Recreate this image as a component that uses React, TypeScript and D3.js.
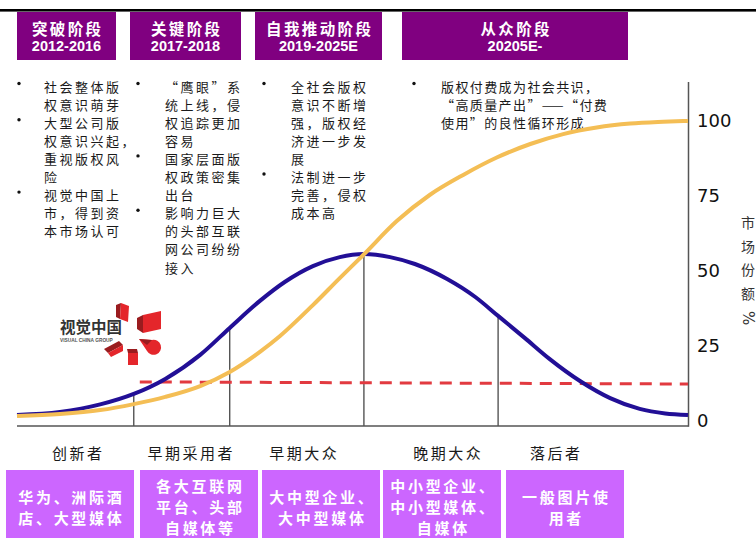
import React from "react";
import * as d3 from "d3";

// Stage headers
const stageNames = ["突破阶段", "关键阶段", "自我推动阶段", "从众阶段"];
const stagePeriods = ["2012-2016", "2017-2018", "2019-2025E", "20205E-"];

// Notes under each stage: bullets, each bullet split into display lines
const stageNotes: string[][][] = [
  [
    ["社会整体版", "权意识萌芽"],
    ["大型公司版", "权意识兴起，", "重视版权风", "险"],
    ["视觉中国上", "市，得到资", "本市场认可"],
  ],
  [
    ["“鹰眼”系", "统上线，侵", "权追踪更加", "容易"],
    ["国家层面版", "权政策密集", "出台"],
    ["影响力巨大", "的头部互联", "网公司纷纷", "接入"],
  ],
  [
    ["全社会版权", "意识不断增", "强，版权经", "济进一步发", "展"],
    ["法制进一步", "完善，侵权", "成本高"],
  ],
  [["版权付费成为社会共识，", "“高质量产出”——“付费", "使用”的良性循环形成"]],
];

// Adopter categories and the users in each
const adopterGroups = ["创新者", "早期采用者", "早期大众", "晚期大众", "落后者"];
const adopterUsers: string[][] = [
  ["华为、洲际酒", "店、大型媒体"],
  ["各大互联网", "平台、头部", "自媒体等"],
  ["大中型企业、", "大中型媒体"],
  ["中小型企业、", "中小型媒体、", "自媒体"],
  ["一般图片使", "用者"],
];

// Adoption curve (bell): [time, share %]
const adoptionBell: [number, number][] = [
  [0, 1.7], [6.4, 2.7], [12.4, 5.2], [17.4, 8.7], [22.1, 13.7], [27.3, 21.7],
  [31.7, 30.7], [36.2, 39.7], [39.9, 46.0], [44.1, 51.3], [48.1, 54.3],
  [51.7, 55.3], [55.6, 54.3], [59.3, 52.0], [64.1, 47.0], [68.3, 41.0],
  [71.7, 34.7], [75.7, 27.3], [79.4, 20.3], [83.9, 13.0], [88.4, 7.3],
  [92.8, 3.7], [96.6, 2.2], [100, 1.7],
];

// Cumulative market share (S-curve): [time, share %]
const marketShare: [number, number][] = [
  [0, 1.3], [6.4, 2.0], [12.4, 3.3], [17.4, 5.3], [22.1, 7.7], [27.3, 11.3],
  [31.7, 16.0], [36.2, 22.7], [39.2, 28.0], [44.1, 38.3], [48.1, 47.3],
  [51.6, 55.0], [56.6, 66.3], [61.5, 75.0], [66.5, 81.7], [71.5, 87.5],
  [76.5, 92.0], [81.4, 95.3], [86.4, 97.5], [91.4, 98.8], [96.3, 99.4],
  [100, 99.7],
];

// Critical-mass threshold line
const threshold: [number, number][] = [[18.3, 12.7], [100, 12.0]];

// Group boundaries on the bell curve: [time, share %]
const boundaries: [number, number][] = [[17.4, 8.7], [31.7, 30.7], [51.7, 55.3], [71.7, 34.7]];

const yTicks = [0, 25, 50, 75, 100];
const axisTitle = ["市", "场", "份", "额"];

// Layout
const W = 756;
const H = 538;
const headerBoxes = [[17, 116], [130, 241], [255, 382], [402, 628]];
const noteColumns = [
  { bx: 18, tx: 44, ls: 2.5 },
  { bx: 137, tx: 165, ls: 2.5 },
  { bx: 263, tx: 291, ls: 2.5 },
  { bx: 413, tx: 441, ls: 1.4 },
];
const groupLabelX = [77, 190, 303, 447, 555];
const userBoxes = [[6, 134], [140, 258], [262, 380], [383, 501], [506, 624]];

const PURPLE = "#800080";
const LILAC = "#CC66FF";
const NAVY = "#220F96";
const GOLD = "#F4BE55";
const RED = "#E23A40";
const CJK = "'Noto Sans CJK SC', sans-serif";

export default function App() {
  const x = d3.scaleLinear().domain([0, 100]).range([17, 688]);
  const y = d3.scaleLinear().domain([0, 100]).range([420, 120]);
  const line = d3
    .line<[number, number]>()
    .x((d) => x(d[0]))
    .y((d) => y(d[1]))
    .curve(d3.curveMonotoneX);
  const straight = d3
    .line<[number, number]>()
    .x((d) => x(d[0]))
    .y((d) => y(d[1]));

  const baseY = y(0) + 6;
  const axisX = x(100) + 0.5;
  const lineH = 18.1;

  return (
    <svg
      width={W}
      height={H}
      viewBox={`0 0 ${W} ${H}`}
      style={{ position: "absolute", left: 0, top: 0, background: "#fff" }}
    >
      <rect x={0} y={0} width={W} height={H} fill="#fff" />
      {/* top rule */}
      <rect x={0} y={9} width={W} height={2.6} fill="#000" />

      {/* stage headers */}
      {stageNames.map((name, i) => {
        const [x0, x1] = headerBoxes[i];
        const cx = (x0 + x1) / 2;
        return (
          <g key={name}>
            <rect x={x0} y={12} width={x1 - x0} height={48} fill={PURPLE} />
            <text
              x={cx + 1.2}
              y={27.5}
              textAnchor="middle"
              dominantBaseline="central"
              fill="#fff"
              fontFamily={CJK}
              fontWeight="bold"
              fontSize={15.5}
              letterSpacing={2.4}
            >
              {name}
            </text>
            <text
              x={cx}
              y={46}
              textAnchor="middle"
              dominantBaseline="central"
              fill="#fff"
              fontFamily="'Liberation Sans', Arial, sans-serif"
              fontWeight="bold"
              fontSize={14.5}
            >
              {stagePeriods[i]}
            </text>
          </g>
        );
      })}

      {/* stage notes */}
      {stageNotes.map((bullets, ci) => {
        const col = noteColumns[ci];
        let row = 0;
        const items: React.ReactNode[] = [];
        bullets.forEach((lines, bi) => {
          const yy = 86 + row * lineH;
          items.push(
            <circle key={`b${bi}`} cx={col.bx + 1} cy={yy - 2.5} r={1.7} fill="#111" />
          );
          lines.forEach((ln, li) => {
            items.push(
              <text
                key={`t${bi}-${li}`}
                x={col.tx}
                y={86 + (row + li) * lineH}
                dominantBaseline="central"
                fill="#1a1a1a"
                fontFamily={CJK}
                fontSize={13}
                letterSpacing={col.ls}
              >
                {ln}
              </text>
            );
          });
          row += lines.length;
        });
        return <g key={ci}>{items}</g>;
      })}

      {/* logo */}
      <g>
        <text x={60} y={333} fontFamily={CJK} fontWeight="bold" fontSize={15.5} fill="#333">
          视觉中国
        </text>
        <text x={60} y={341.5} fontFamily="'Liberation Sans', Arial, sans-serif" fontWeight="bold" fontSize={4.8} fill="#555">
          VISUAL CHINA GROUP
        </text>
        <polygon points="116,305 121,303 120,319 116,317" fill="#9a1c1f" />
        <polygon points="121,303 129,306 128,322 120,319" fill="#e4262b" />
        <polygon points="137,318 143,315 143,333 137,329" fill="#9a1c1f" />
        <polygon points="143,315 161,311 161,329 143,333" fill="#e4262b" />
        <path d="M139,339 L152,340 A7.5,7.5 0 1 1 147,351 Z" fill="#e4262b" />
        <path d="M139,339 L152,340 L147,345 Z" fill="#9a1c1f" />
        <polygon points="127,349 137,349 138,353 128,353" fill="#9a1c1f" />
        <rect x={128} y={353} width={10} height={12} fill="#e4262b" />
        <polygon points="104,349 119,341 123,345 108,353" fill="#9a1c1f" />
        <polygon points="108,353 123,345 123,351 111,357" fill="#e4262b" />
      </g>

      {/* group boundaries */}
      {boundaries.map((b, i) => (
        <line
          key={i}
          x1={x(b[0])}
          x2={x(b[0])}
          y1={y(b[1])}
          y2={baseY}
          stroke="#555"
          strokeWidth={1.4}
        />
      ))}

      {/* baseline and right axis */}
      <line x1={x(0)} x2={axisX} y1={baseY} y2={baseY} stroke="#555" strokeWidth={1.5} />
      <line x1={axisX} x2={axisX} y1={82} y2={baseY + 0.75} stroke="#555" strokeWidth={1.5} />
      {yTicks.map((t) => (
        <text
          key={t}
          x={697}
          y={y(t)}
          dominantBaseline="central"
          fontFamily="'DejaVu Sans', sans-serif"
          fontSize={18}
          fill="#111"
        >
          {t}
        </text>
      ))}
      {axisTitle.map((c, i) => (
        <text
          key={c}
          x={748}
          y={222 + i * 23.5}
          textAnchor="middle"
          dominantBaseline="central"
          fontFamily={CJK}
          fontSize={14}
          fill="#333"
        >
          {c}
        </text>
      ))}
      <text
        transform="translate(748,318) rotate(90)"
        textAnchor="middle"
        dominantBaseline="central"
        fontFamily="'DejaVu Sans', sans-serif"
        fontSize={15}
        fill="#333"
      >
        %
      </text>

      {/* threshold */}
      <path
        d={straight(threshold) || ""}
        fill="none"
        stroke={RED}
        strokeWidth={3}
        strokeDasharray="12 8"
      />
      {/* curves */}
      <path d={line(adoptionBell) || ""} fill="none" stroke={NAVY} strokeWidth={4} />
      <path d={line(marketShare) || ""} fill="none" stroke={GOLD} strokeWidth={4} />

      {/* adopter group labels */}
      {adopterGroups.map((g, i) => (
        <text
          key={g}
          x={groupLabelX[i] + 1.25}
          y={452}
          textAnchor="middle"
          dominantBaseline="central"
          fontFamily={CJK}
          fontSize={15}
          letterSpacing={2.5}
          fill="#1a1a1a"
        >
          {g}
        </text>
      ))}

      {/* user boxes */}
      {adopterUsers.map((lines, i) => {
        const [x0, x1] = userBoxes[i];
        const cx = (x0 + x1) / 2;
        const top = 470;
        const mid = 506.5;
        const gap = 21;
        const start = mid - ((lines.length - 1) * gap) / 2;
        return (
          <g key={i}>
            <rect x={x0} y={top} width={x1 - x0} height={H - top} fill={LILAC} />
            {lines.map((ln, li) => (
              <text
                key={li}
                x={cx + 1.35}
                y={start + li * gap}
                textAnchor="middle"
                dominantBaseline="central"
                fontFamily={CJK}
                fontWeight="bold"
                fontSize={15}
                letterSpacing={2.7}
                fill="#fff"
              >
                {ln}
              </text>
            ))}
          </g>
        );
      })}
    </svg>
  );
}
